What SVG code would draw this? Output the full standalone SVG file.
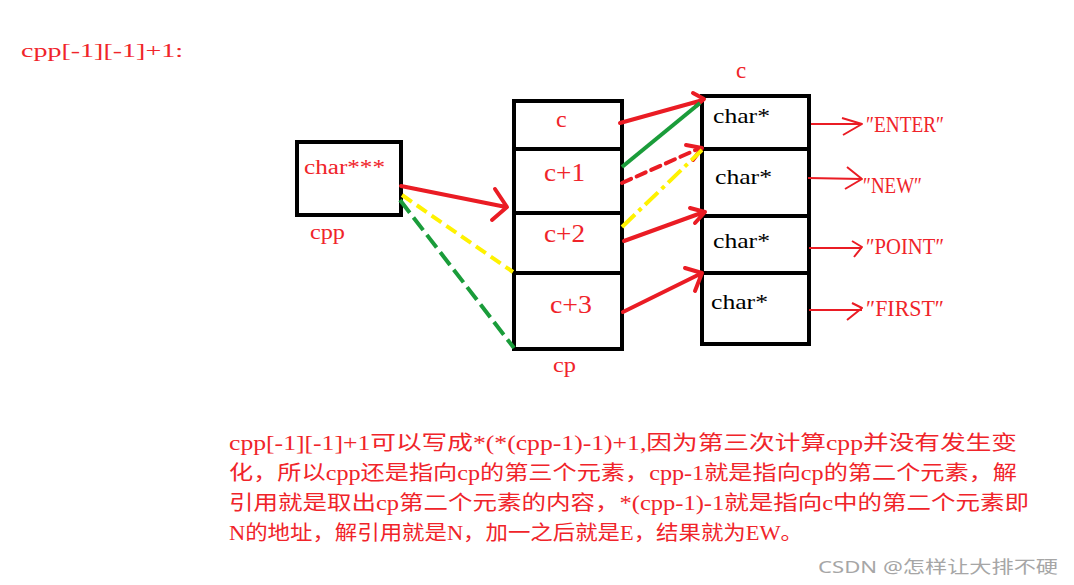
<svg xmlns="http://www.w3.org/2000/svg" width="1074" height="585" viewBox="0 0 1074 585">
<style>
.box{fill:#fff;stroke:#000;stroke-width:4}
.div{stroke:#000;stroke-width:4}
.t{font-family:"Liberation Serif","Noto Sans CJK SC",serif;fill:#f0242a}
.k{font-family:"Liberation Serif","Noto Sans CJK SC",serif;fill:#000}
.red{stroke:#ea1c24;stroke-width:4;fill:none;stroke-linecap:round;stroke-linejoin:round}
.thin{stroke:#ea1c24;stroke-width:2;fill:none;stroke-linejoin:round}
.grn{stroke:#1a9c3a;stroke-width:4;fill:none}
.yel{stroke:#fff200;stroke-width:4;fill:none}
</style>
<rect width="1074" height="585" fill="#fff"/>
<text class="t" x="21" y="57" font-size="19" textLength="162" lengthAdjust="spacingAndGlyphs">cpp[-1][-1]+1:</text>

<g id="cpp">
<rect class="box" x="297" y="142" width="104" height="73"/>
<text class="t" x="304" y="174" font-size="20" textLength="81" lengthAdjust="spacingAndGlyphs">char***</text>
<text class="t" x="310" y="239" font-size="21" textLength="35" lengthAdjust="spacingAndGlyphs">cpp</text>
</g>

<g id="cp">
<rect class="box" x="514" y="101" width="108" height="248"/>
<line class="div" x1="514" y1="149" x2="622" y2="149"/>
<line class="div" x1="514" y1="213" x2="622" y2="213"/>
<line class="div" x1="514" y1="273" x2="622" y2="273"/>
<text class="t" x="556" y="127" font-size="24">c</text>
<text class="t" x="544" y="181" font-size="25" textLength="41" lengthAdjust="spacingAndGlyphs">c+1</text>
<text class="t" x="544" y="242" font-size="25" textLength="41" lengthAdjust="spacingAndGlyphs">c+2</text>
<text class="t" x="550" y="313" font-size="25" textLength="42" lengthAdjust="spacingAndGlyphs">c+3</text>
<text class="t" x="553" y="372" font-size="21" textLength="23" lengthAdjust="spacingAndGlyphs">cp</text>
</g>

<g id="c">
<text class="t" x="736" y="78" font-size="23">c</text>
<rect class="box" x="702" y="96" width="107" height="248"/>
<line class="div" x1="702" y1="149" x2="809" y2="149"/>
<line class="div" x1="702" y1="216" x2="809" y2="216"/>
<line class="div" x1="702" y1="273" x2="809" y2="273"/>
<text class="k" x="713" y="123" font-size="22" textLength="57" lengthAdjust="spacingAndGlyphs">char*</text>
<text class="k" x="715" y="184" font-size="22" textLength="57" lengthAdjust="spacingAndGlyphs">char*</text>
<text class="k" x="713" y="248" font-size="22" textLength="57" lengthAdjust="spacingAndGlyphs">char*</text>
<text class="k" x="711" y="309" font-size="22" textLength="57" lengthAdjust="spacingAndGlyphs">char*</text>
</g>

<g id="strings">
<text class="t" x="866" y="132" font-size="24" textLength="78" lengthAdjust="spacingAndGlyphs">″ENTER″</text>
<text class="t" x="863" y="193" font-size="24" textLength="59" lengthAdjust="spacingAndGlyphs">″NEW″</text>
<text class="t" x="866" y="254" font-size="24" textLength="78" lengthAdjust="spacingAndGlyphs">″POINT″</text>
<text class="t" x="866" y="316" font-size="24" textLength="78" lengthAdjust="spacingAndGlyphs">″FIRST″</text>
</g>

<g id="connectors">
<path class="thin" d="M811 124H862M842 118L862 124L843 135"/>
<path class="thin" d="M808 178L862 179M847 167L862 179L845 189"/>
<path class="thin" d="M809 248H862M852 241L862 247L854 257"/>
<path class="thin" d="M809 310H862M852 303L862 308L847 320"/>
<path class="red" d="M401 186L506 207M495 189L507 207L492 220"/>
<line class="yel" x1="402" y1="195" x2="513" y2="272" stroke-dasharray="12,6"/>
<line class="grn" x1="400" y1="200" x2="514" y2="348" stroke-dasharray="16,6"/>
<path class="red" d="M620 123L703 100M693 93L704 99L696 106"/>
<line class="grn" x1="622" y1="167" x2="700" y2="103"/>
<path class="red" d="M622 183L700 148" stroke-dasharray="10,6" stroke-linecap="butt"/>
<path class="red" d="M686 145L702 148L693 160"/>
<line class="yel" x1="622" y1="227" x2="702" y2="150" stroke-dasharray="18,5,4,5"/>
<path class="red" d="M624 241L704 212M690 208L705 212L695 223"/>
<path class="red" d="M623 312L702 273M685 268L702 273L695 291"/>
</g>

<g id="note" font-size="20">
<text class="t" x="229" y="450" textLength="788" lengthAdjust="spacingAndGlyphs">cpp[-1][-1]+1可以写成*(*(cpp-1)-1)+1,因为第三次计算cpp并没有发生变</text>
<text class="t" x="229" y="480" textLength="788" lengthAdjust="spacingAndGlyphs">化，所以cpp还是指向cp的第三个元素，cpp-1就是指向cp的第二个元素，解</text>
<text class="t" x="229" y="510" textLength="800" lengthAdjust="spacingAndGlyphs">引用就是取出cp第二个元素的内容，*(cpp-1)-1就是指向c中的第二个元素即</text>
<text class="t" x="229" y="540" textLength="574" lengthAdjust="spacingAndGlyphs">N的地址，解引用就是N，加一之后就是E，结果就为EW。</text>
</g>
<text x="818" y="573" font-size="17" fill="#a6a6a6" font-family="'Noto Sans','Noto Sans CJK SC',sans-serif" textLength="240" lengthAdjust="spacingAndGlyphs">CSDN @怎样让大排不硬</text>
</svg>
